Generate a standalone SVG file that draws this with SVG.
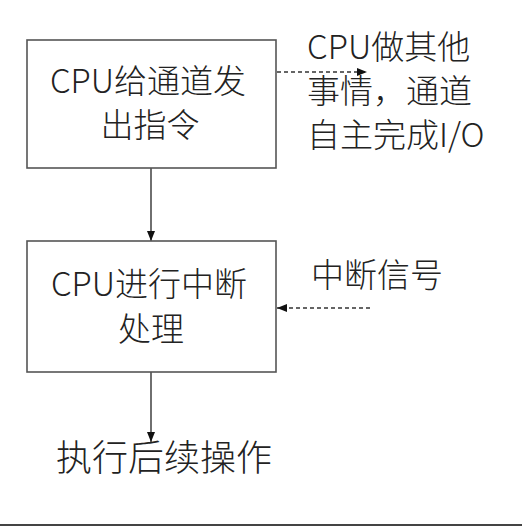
<svg xmlns="http://www.w3.org/2000/svg" width="522" height="526" viewBox="0 0 522 526">
<style>
text { font-family: "Noto Sans CJK SC", "Noto Sans", sans-serif; fill: #222; font-size: 33px; font-weight: 300; }
.box { fill: #fff; stroke: #555; stroke-width: 1.6; }
.solid { stroke: #333; stroke-width: 1.4; fill: none; }
.dash { stroke: #333; stroke-width: 1.4; fill: none; stroke-dasharray: 4 3; }
</style>
<defs>
<marker id="arr" viewBox="0 0 10 10" refX="10" refY="5" markerWidth="10" markerHeight="10" markerUnits="userSpaceOnUse" orient="auto">
<path d="M0,1 L10,5 L0,9 Z" fill="#111"/>
</marker>
</defs>
<rect width="522" height="526" fill="#fff"/>
<g id="connectors">
<line class="solid" x1="151" y1="168" x2="151" y2="241" marker-end="url(#arr)"/>
<line class="solid" x1="151" y1="372" x2="151" y2="442" marker-end="url(#arr)"/>
<line class="dash" x1="277" y1="72" x2="367" y2="72" marker-end="url(#arr)"/>
<line class="dash" x1="370" y1="308" x2="277" y2="308" marker-end="url(#arr)"/>
</g>
<g id="node-send">
<rect class="box" x="27" y="40" width="249" height="128"/>
<text x="148" y="93" text-anchor="middle">CPU给通道发</text>
<text x="150" y="137" text-anchor="middle">出指令</text>
</g>
<g id="node-interrupt">
<rect class="box" x="27" y="241" width="249" height="131"/>
<text x="149" y="296" text-anchor="middle">CPU进行中断</text>
<text x="151" y="341" text-anchor="middle">处理</text>
</g>
<g id="label-other">
<text x="307" y="59">CPU做其他</text>
<text x="307" y="103">事情，通道</text>
<text x="307" y="147">自主完成I/O</text>
</g>
<g id="label-signal">
<text x="311" y="287">中断信号</text>
</g>
<g id="node-next">
<text x="56" y="471" style="font-size:36px">执行后续操作</text>
</g>
<line x1="0" y1="525" x2="522" y2="525" stroke="#444" stroke-width="2"/>
</svg>
